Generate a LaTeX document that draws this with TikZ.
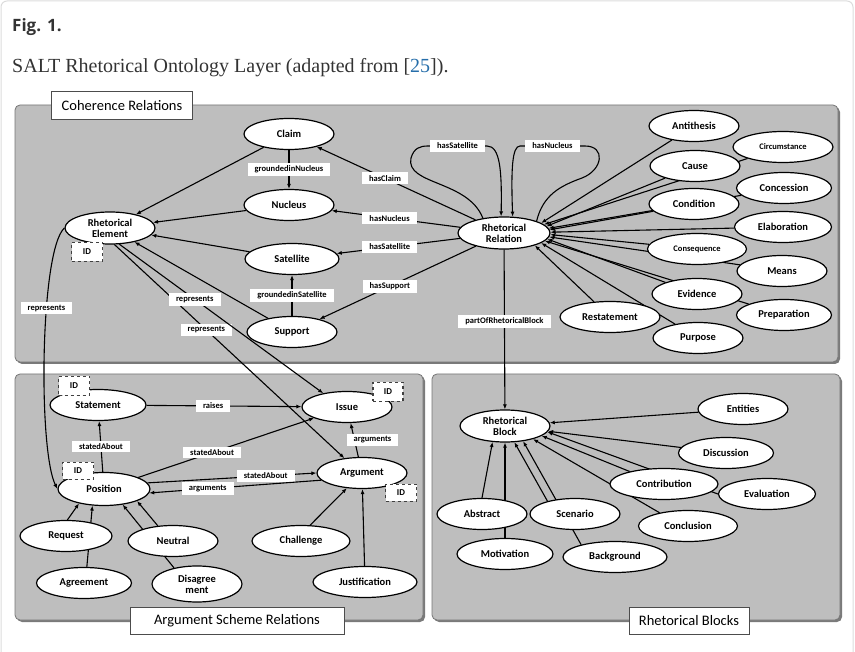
\documentclass[tikz,border=0pt]{standalone}
\usepackage{fontspec}
\setmainfont{Carlito}
\newfontfamily\capfont{Liberation Serif}
\newfontfamily\figfont{Open Sans}
\usetikzlibrary{arrows.meta,shapes.geometric,shadows}

\pgfdeclarelayer{panels}
\pgfdeclarelayer{links}
\pgfsetlayers{panels,links,main}

\definecolor{panelgray}{RGB}{190,190,190}
\definecolor{panelline}{RGB}{118,118,118}
\definecolor{cardline}{RGB}{220,220,220}
\definecolor{citeblue}{RGB}{38,110,170}
\definecolor{captext}{RGB}{51,51,51}

\tikzset{
  concept/.style={ellipse, draw, line width=1.2pt, fill=white, minimum width=90, minimum height=31,
    inner sep=0pt, align=center, font=\bfseries\fontsize{10.5}{11}\selectfont},
  small concept/.style={concept, font=\bfseries\fontsize{8.5}{10}\selectfont},
  lbl/.style={fill=white, inner xsep=7pt, inner ysep=2.8pt, font=\bfseries\fontsize{8.5}{9}\selectfont},
  idbox/.style={draw=black!75, dashed, line width=1.2pt, fill=white, minimum width=31, minimum height=19,
    inner sep=0pt, font=\bfseries\fontsize{9}{10}\selectfont},
  panel/.style={fill=panelgray, draw=panelline, line width=0.8pt, rounded corners=5pt,
    drop shadow={shadow xshift=2pt, shadow yshift=-2pt, opacity=.8, fill=black!65}},
  title/.style={draw=black!70, fill=white, line width=1pt, inner sep=0pt, font=\fontsize{14.5}{16}\selectfont},
  link/.style={-{Latex[length=5pt,width=4pt]}, line width=1.1pt},
}

\begin{document}
\begin{tikzpicture}[x=1pt,y=-1pt]
\useasboundingbox (0,0) rectangle (855,652);
\draw[cardline, line width=1pt, rounded corners=6pt] (1,1) rectangle (853,690);

%Caption
\node[anchor=base west, inner sep=0pt, text=captext, font={\figfont\bfseries\fontsize{17}{18}\selectfont}] (fighead) at (12,32) {Fig. 1.};
\node[anchor=base west, inner sep=0pt, text=captext, font={\capfont\fontsize{20}{22}\selectfont}] (caption) at (12,73)
  {SALT Rhetorical Ontology Layer (adapted from [\textcolor{citeblue}{25}]).};

%Panels
\begin{pgfonlayer}{panels}
\draw[panel] (15,105) rectangle (838,362);
\draw[panel] (15,374) rectangle (423,620);
\draw[panel] (432,374) rectangle (840,620);
\end{pgfonlayer}
\node[title, minimum width=141, minimum height=28] (cohtitle) at (122,106) {Coherence Relations};
\node[title, minimum width=214, minimum height=27] (argtitle) at (237,621) {Argument Scheme Relations};
\node[title, minimum width=120, minimum height=27] (blocktitle) at (689,621) {Rhetorical Blocks};

%Coherence Relations
\node[concept] (claim) at (289,134) {Claim};
\node[concept] (nucleus) at (289,205) {Nucleus};
\node[concept, minimum width=94] (satellite) at (292,259) {Satellite};
\node[concept] (support) at (292,332) {Support};
\node[concept, minimum height=32] (relem) at (110,228) {Rhetorical\\Element};
\node[idbox] (relemid) at (87,252) {ID};
\node[concept, minimum width=92, minimum height=32] (rrel) at (504,233) {Rhetorical\\Relation};

\node[concept] (antithesis) at (694,126) {Antithesis};
\node[small concept, minimum width=100] (circumstance) at (783,147) {Circumstance};
\node[concept] (cause) at (695,166) {Cause};
\node[concept, minimum width=95] (concession) at (784,188) {Concession};
\node[concept] (condition) at (694,204) {Condition};
\node[concept, minimum width=97] (elaboration) at (783,227) {Elaboration};
\node[small concept, minimum width=99] (consequence) at (697,249) {Consequence};
\node[concept] (means) at (782,271) {Means};
\node[concept] (evidence) at (697,294) {Evidence};
\node[concept, minimum width=95] (preparation) at (784,315) {Preparation};
\node[concept, minimum width=100] (restatement) at (610,317) {Restatement};
\node[concept] (purpose) at (698,338) {Purpose};

%Argument Scheme Relations
\node[concept, minimum width=96] (statement) at (98,405) {Statement};
\node[idbox] (statementid) at (74,386) {ID};
\node[concept] (issue) at (347,407) {Issue};
\node[idbox, minimum width=30] (issueid) at (388,392) {ID};
\node[concept, minimum width=92, minimum height=33] (position) at (104,489) {Position};
\node[idbox, minimum height=17] (positionid) at (78,471) {ID};
\node[concept] (argument) at (362,473) {Argument};
\node[idbox, minimum height=17] (argumentid) at (401,493) {ID};
\node[concept, minimum width=92] (request) at (66,536) {Request};
\node[concept] (neutral) at (173,541) {Neutral};
\node[concept, minimum width=98] (challenge) at (301,541) {Challenge};
\node[concept, minimum width=95] (agreement) at (84,583) {Agreement};
\node[concept, minimum height=36] (disagreement) at (197,584) {Disagree\\ment};
\node[concept, minimum width=104] (justification) at (365,582) {Justification};

%Rhetorical Blocks
\node[concept, minimum height=32] (rblock) at (505,426) {Rhetorical\\Block};
\node[concept] (entities) at (743,409) {Entities};
\node[concept, minimum width=95] (discussion) at (726,453) {Discussion};
\node[concept, minimum width=108] (contribution) at (664,484) {Contribution};
\node[concept, minimum width=97] (evaluation) at (767,494) {Evaluation};
\node[concept, minimum width=99] (conclusion) at (688,526) {Conclusion};
\node[concept] (abstract) at (482,514) {Abstract};
\node[concept] (scenario) at (575,514) {Scenario};
\node[concept, minimum width=96] (motivation) at (505,554) {Motivation};
\node[concept, minimum width=104] (background) at (615,557) {Background};

\begin{pgfonlayer}{links}
%Coherence links
\draw[link] (claim) -- node[lbl]{groundedinNucleus} (nucleus);
\draw[link] (support) -- node[lbl]{groundedinSatellite} (satellite);
\draw[link] (claim) -- (relem);
\draw[link] (nucleus) -- (relem);
\draw[link] (satellite) -- (relem);
\draw[link] (support) -- (relem);
\draw[link] (rrel) -- node[lbl,pos=.57]{hasClaim} (claim);
\draw[link] (rrel) -- node[lbl,pos=.55]{hasNucleus} (nucleus);
\draw[link] (rrel) -- node[lbl,pos=.57]{hasSatellite} (satellite);
\draw[link] (rrel) -- node[lbl,pos=.55]{hasSupport} (support);
\draw[link] (rrel.145) .. controls (468,180) and (405,185) .. (411,158) .. controls (414,148) and (420,146) .. (428,146)
  -- node[lbl]{hasSatellite} (487,146) .. controls (500,146) and (502,170) .. (rrel.100);
\draw[link] (rrel.20) .. controls (543,195) and (560,186) .. (582,178) .. controls (603,170) and (606,146) .. (585,146)
  -- node[lbl]{hasNucleus} (520,146) .. controls (512,146) and (511,170) .. (rrel.62);
\draw[link] (rrel) -- node[lbl,pos=.45]{partOfRhetoricalBlock} (rblock);

%Relation types
\draw[link] (antithesis) -- (rrel.15);
\draw[link] (circumstance) -- (rrel.12);
\draw[link] (cause) -- (rrel.9);
\draw[link] (concession) -- (rrel.6);
\draw[link] (condition) -- (rrel.4);
\draw[link] (elaboration) -- (rrel.1);
\draw[link] (consequence) -- (rrel.-2);
\draw[link] (means) -- (rrel.-5);
\draw[link] (evidence) -- (rrel.-8);
\draw[link] (preparation) -- (rrel.-11);
\draw[link] (purpose) -- (rrel.-15);
\draw[link] (restatement) -- (rrel.-22);

%represents
\draw[link] (relem.west) .. controls (40,250) and (38,450) .. node[lbl,pos=.37]{represents} (position.west);
\draw[link] (relem.-75) -- node[lbl,pos=.4]{represents} (argument.140);
\draw[link] (relem.-60) -- node[lbl,pos=.37]{represents} (issue.150);

%Argument links
\draw[link] (statement) -- node[lbl,pos=.43]{raises} (issue);
\draw[link] (position) -- node[lbl]{statedAbout} (statement);
\draw[link] (position) -- node[lbl,pos=.42]{statedAbout} (issue);
\draw[link] (position.8) -- node[lbl,pos=.7]{statedAbout} (argument.west);
\draw[link] (argument.190) -- node[lbl,pos=.66]{arguments} (position.-5);
\draw[link] (argument) -- node[lbl,xshift=18]{arguments} (issue);
\draw[link] (request.85) -- (position.-150);
\draw[link] (agreement.80) -- (position.-125);
\draw[link] (neutral.135) -- (position.-20);
\draw[link] (disagreement.145) -- (position.-40);
\draw[link] (challenge.60) -- (argument.-135);
\draw[link] (justification) -- (argument);

%Block links
\draw[link] (entities) -- (rblock);
\draw[link] (discussion) -- (rblock);
\draw[link] (contribution.160) -- (rblock.-15);
\draw[link] (evaluation.west) -- (rblock.-8);
\draw[link] (conclusion.155) -- (rblock.-25);
\draw[link] (abstract.north) -- (rblock.-128);
\draw[link] (motivation.north) -- (rblock.south);
\draw[link] (scenario.155) -- (rblock.-60);
\draw[link] (background.160) -- (rblock.-40);
\end{pgfonlayer}
\end{tikzpicture}
\end{document}
